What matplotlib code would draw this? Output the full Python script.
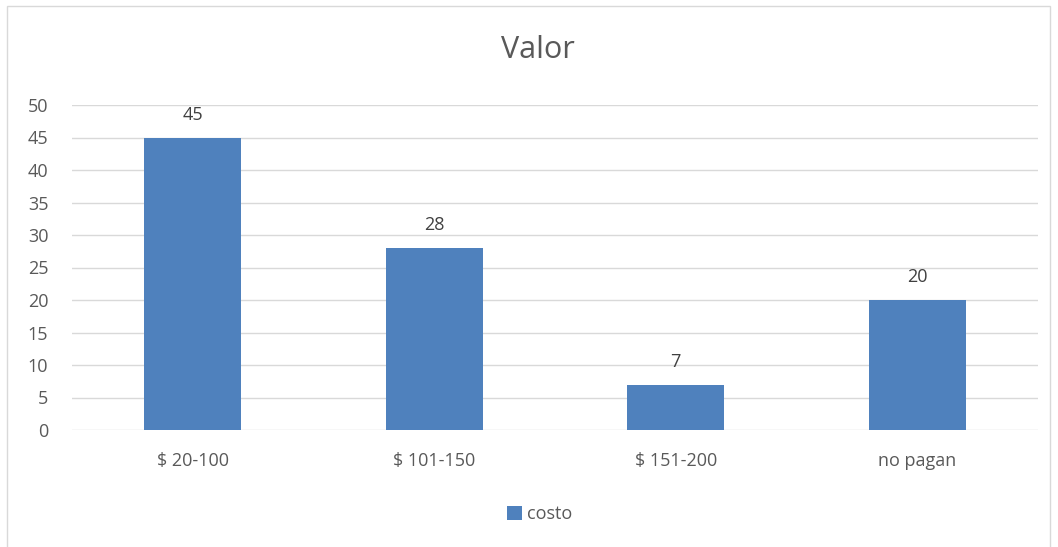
import matplotlib
matplotlib.use("Agg")
import matplotlib.pyplot as plt
from matplotlib.patches import Rectangle

categories = ["$ 20-100", "$ 101-150", "$ 151-200", "no pagan"]
values = [45, 28, 7, 20]
series_name = "costo"
title = "Valor"
yticks = [0, 5, 10, 15, 20, 25, 30, 35, 40, 45, 50]

W, H = 1058, 547
plt.rcParams['font.family'] = ['Open Sans', 'DejaVu Sans']
txt = '#595959'
fig = plt.figure(figsize=(W/100, H/100), dpi=100)
fig.patches.append(Rectangle((7/W, -0.01), (1050-7)/W, (H-6)/H + 0.01, transform=fig.transFigure,
                             fill=False, edgecolor='#D9D9D9', linewidth=1))
ax = fig.add_axes([72/W, 1-430/H, (1038-72)/W, (430-105)/H])
x = list(range(len(categories)))
ax.bar(x, values, width=0.4, color='#4F81BD', zorder=3, label=series_name)
for xi, v in zip(x, values):
    ax.annotate(str(v), (xi, v), xytext=(0, 10), textcoords='offset points',
                ha='center', va='bottom', fontsize=13, color='#404040')
ax.set_xlim(-0.5, len(categories) - 0.5)
ax.set_ylim(0, 50)
ax.set_yticks(yticks)
ax.set_xticks(x)
ax.set_xticklabels(categories)
ax.grid(axis='y', color='#D9D9D9', linewidth=1, zorder=0)
for s in ax.spines.values():
    s.set_visible(False)
ax.tick_params(axis='both', length=0, labelsize=13, colors=txt)
ax.tick_params(axis='y', pad=17)
ax.tick_params(axis='x', pad=16)
fig.text(538/W, 1-50/H, title, ha='center', va='center', fontsize=22, color=txt)
fig.legend(loc='center', bbox_to_anchor=(540/W, 1-514/H), frameon=False, fontsize=13,
           labelcolor=txt, handlelength=0.8, handleheight=0.8, handletextpad=0.3)
fig.savefig("out.png", dpi=100, facecolor='white')
